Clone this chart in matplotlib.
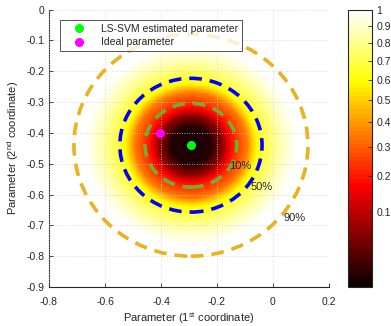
import numpy as np
import matplotlib
matplotlib.use("Agg")
import matplotlib.pyplot as plt
from matplotlib.colors import PowerNorm
from matplotlib.patches import Ellipse

plt.rcParams['font.family'] = ['Liberation Sans', 'DejaVu Sans']
plt.rcParams['mathtext.fontset'] = 'custom'
plt.rcParams['mathtext.rm'] = 'Liberation Sans'
plt.rcParams['mathtext.it'] = 'Liberation Sans'

# estimated / ideal parameter
est_point = (-0.293, -0.44)
ideal_point = (-0.405, -0.40)

# confidence ellipses: (label, x radius, y radius)
conf_labels = ["10%", "50%", "90%"]
conf_rx = [0.164, 0.254, 0.418]
conf_ry = [0.136, 0.217, 0.360]
conf_colors = ["#77AC30", "#0000FF", "#EDB120"]
label_pos = [(-0.155, -0.508), (-0.080, -0.576), (0.036, -0.676)]

# radial profile of the heat map (normalised radius -> level)
rho_profile = [0.0, 0.30, 0.45, 0.55, 0.79, 0.93, 1.10, 1.25, 1.45, 1.70]
level_profile = [0.0, 0.005, 0.06, 0.17, 0.35, 0.60, 0.74, 0.85, 0.97, 1.0]

cbar_ticks = [0.1, 0.2, 0.3, 0.4, 0.5, 0.6, 0.7, 0.8, 0.9, 1.0]
xticks = [-0.8, -0.6, -0.4, -0.2, 0, 0.2]
yticks = [-0.9, -0.8, -0.7, -0.6, -0.5, -0.4, -0.3, -0.2, -0.1, 0]

fs = 7.5
tc = "#262626"

fig = plt.figure(figsize=(3.91, 3.26), dpi=100)
ax = fig.add_axes([0.1253, 0.1196, 0.716, 0.851])
cax = fig.add_axes([0.890, 0.1196, 0.0614, 0.851])

gx = np.linspace(-0.8, 0.2, 400)
gy = np.linspace(-0.9, 0.0, 360)
X, Y = np.meshgrid(gx, gy)
rho = np.sqrt(((X - est_point[0]) / conf_rx[1]) ** 2 + ((Y - est_point[1]) / conf_ry[1]) ** 2)
Z = np.interp(rho, rho_profile, level_profile)

cmap = plt.get_cmap("hot", 64)
norm = PowerNorm(gamma=0.57, vmin=0, vmax=1)
mesh = ax.pcolormesh(X, Y, Z, cmap=cmap, norm=norm, shading="auto", rasterized=True)

for rx, ry, c in zip(conf_rx, conf_ry, conf_colors):
    ax.add_patch(Ellipse(est_point, 2 * rx, 2 * ry, fill=False, edgecolor=c,
                         linewidth=2.6, linestyle=(0, (3.5, 2.2)), zorder=3))
for lab, (lx, ly) in zip(conf_labels, label_pos):
    ax.text(lx, ly, lab, fontsize=fs + 0.5, color=tc, va="center", ha="left", zorder=4)

ax.plot(*est_point, "o", color="#00FF00", markersize=5.5, linestyle="none", zorder=5,
        label="LS-SVM estimated parameter")
ax.plot(*ideal_point, "o", color="#FF00FF", markersize=5.5, linestyle="none", zorder=5,
        label="Ideal parameter")

ax.set_xlim(-0.8, 0.2)
ax.set_ylim(-0.9, 0.0)
ax.set_xticks(xticks)
ax.set_xticklabels(["-0.8", "-0.6", "-0.4", "-0.2", "0", "0.2"])
ax.set_yticks(yticks)
ax.set_yticklabels(["-0.9", "-0.8", "-0.7", "-0.6", "-0.5", "-0.4", "-0.3", "-0.2", "-0.1", "0"])
ax.tick_params(direction="in", length=3, width=0.6, labelsize=fs, colors=tc, pad=3)
ax.tick_params(axis="x", pad=7.5)
ax.spines["top"].set_visible(False)
ax.spines["right"].set_visible(False)
for s in ("left", "bottom"):
    ax.spines[s].set_color(tc)
    ax.spines[s].set_linewidth(0.8)
ax.set_axisbelow(False)
ax.grid(True, linestyle=(0, (1, 2)), color="#d0d0d0", linewidth=0.6, zorder=2)

ax.set_xlabel(r"Parameter (1$^{\mathrm{st}}$ coordinate)", fontsize=fs + 0.5, color=tc, labelpad=2)
ax.set_ylabel(r"Parameter (2$^{\mathrm{nd}}$ coordinate)", fontsize=fs + 0.5, color=tc, labelpad=4)

leg = ax.legend(loc="upper left", bbox_to_anchor=(0.039, 0.962), fontsize=fs,
                frameon=True, fancybox=False, handlelength=3.0, handletextpad=0.6,
                borderpad=0.35, labelspacing=0.35, borderaxespad=0)
leg.get_frame().set_edgecolor("#262626")
leg.get_frame().set_linewidth(0.7)
for t in leg.get_texts():
    t.set_color(tc)

cb = fig.colorbar(mesh, cax=cax)
cb.set_ticks(cbar_ticks)
cb.set_ticklabels(["0.1", "0.2", "0.3", "0.4", "0.5", "0.6", "0.7", "0.8", "0.9", "1"])
cb.ax.tick_params(direction="in", length=3, width=0.6, labelsize=fs, colors=tc, pad=3)
cb.outline.set_edgecolor(tc)
cb.outline.set_linewidth(0.8)
cb.ax.minorticks_off()

fig.savefig("out.png", dpi=100)
